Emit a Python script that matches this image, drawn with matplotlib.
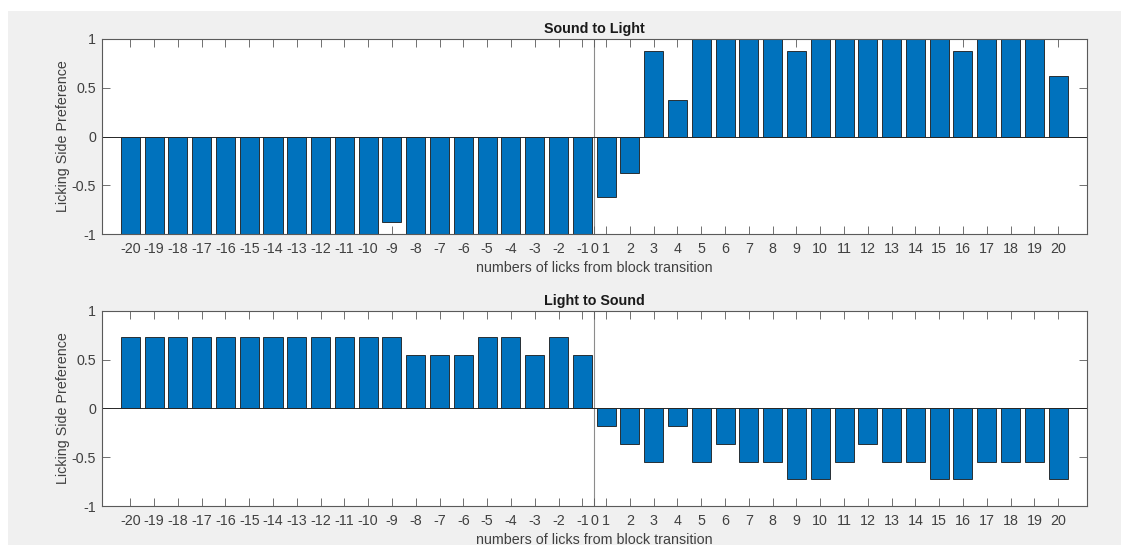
import numpy as np
import matplotlib
matplotlib.use('Agg')
import matplotlib.pyplot as plt
from matplotlib.patches import Rectangle

plt.rcParams['font.family'] = ['Liberation Sans', 'DejaVu Sans']

# lick numbers relative to the block transition (no lick 0)
licks = list(range(-20, 0)) + list(range(1, 21))

sound_to_light = [-1, -1, -1, -1, -1, -1, -1, -1, -1, -1,
                  -1, -0.875, -1, -1, -1, -1, -1, -1, -1, -1,
                  -0.625, -0.375, 0.875, 0.375, 1, 1, 1, 1, 0.875, 1,
                  1, 1, 1, 1, 1, 0.875, 1, 1, 1, 0.625]

light_to_sound = [0.727, 0.727, 0.727, 0.727, 0.727, 0.727, 0.727, 0.727, 0.727, 0.727,
                  0.727, 0.727, 0.545, 0.545, 0.545, 0.727, 0.727, 0.545, 0.727, 0.545,
                  -0.182, -0.364, -0.545, -0.182, -0.545, -0.364, -0.545, -0.545, -0.727, -0.727,
                  -0.545, -0.364, -0.545, -0.545, -0.727, -0.727, -0.545, -0.545, -0.545, -0.727]

titles = ['Sound to Light', 'Light to Sound']

W, H = 1121, 545
fig = plt.figure(figsize=(W / 100, H / 100), dpi=100, facecolor='white')
fig.patches.append(Rectangle((8 / W, 0), 1 - 8 / W, 1 - 11 / H,
                             transform=fig.transFigure, facecolor='#f0f0f0',
                             edgecolor='none', zorder=-10))

# bar positions: 1..40, the transition (0) sits between -1 and 1
pos = np.arange(1, len(licks) + 1)
tick_pos = list(pos[:20]) + [20.5] + list(pos[20:])
tick_lab = [str(v) for v in licks[:20]] + ['0'] + [str(v) for v in licks[20:]]

axes_rects = [[101.7 / W, 1 - 234 / H, 985 / W, 195 / H],
              [101.7 / W, 1 - 506 / H, 985 / W, 195.3 / H]]
ax_col = '#5a5a5a'
fs = 10.3

for rect, vals, ttl in zip(axes_rects, [sound_to_light, light_to_sound], titles):
    ax = fig.add_axes(rect)
    ax.set_facecolor('white')
    ax.bar(pos, vals, width=0.8, color='#0072BD', edgecolor='#1a1a1a',
           linewidth=0.6, zorder=2)
    ax.axhline(0, color='#262626', lw=0.7, zorder=3)
    ax.axvline(20.5, color='#8c8c8c', lw=0.8, zorder=1)
    ax.set_xlim(-0.2, 41.2)
    ax.set_ylim(-1, 1)
    ax.set_xticks(tick_pos)
    ax.set_xticklabels(tick_lab)
    ax.set_yticks([-1, -0.5, 0, 0.5, 1])
    ax.set_yticklabels(['-1', '-0.5', '0', '0.5', '1'])
    ax.tick_params(direction='in', length=6, width=0.6, color=ax_col,
                   labelcolor='#404040', labelsize=fs, top=True, right=True)
    ax.tick_params(axis='x', pad=6)
    ax.tick_params(axis='y', pad=4)
    for sp in ax.spines.values():
        sp.set_color(ax_col)
        sp.set_linewidth(0.8)
        sp.set_zorder(4)
    ax.set_title(ttl, fontsize=fs, fontweight='bold', color='#1a1a1a', pad=4)
    ax.set_xlabel('numbers of licks from block transition', fontsize=fs,
                  color='#404040', labelpad=3)
    ax.set_ylabel('Licking Side Preference', fontsize=fs, color='#404040', labelpad=1)

fig.savefig('out.png', dpi=100, facecolor=fig.get_facecolor())
